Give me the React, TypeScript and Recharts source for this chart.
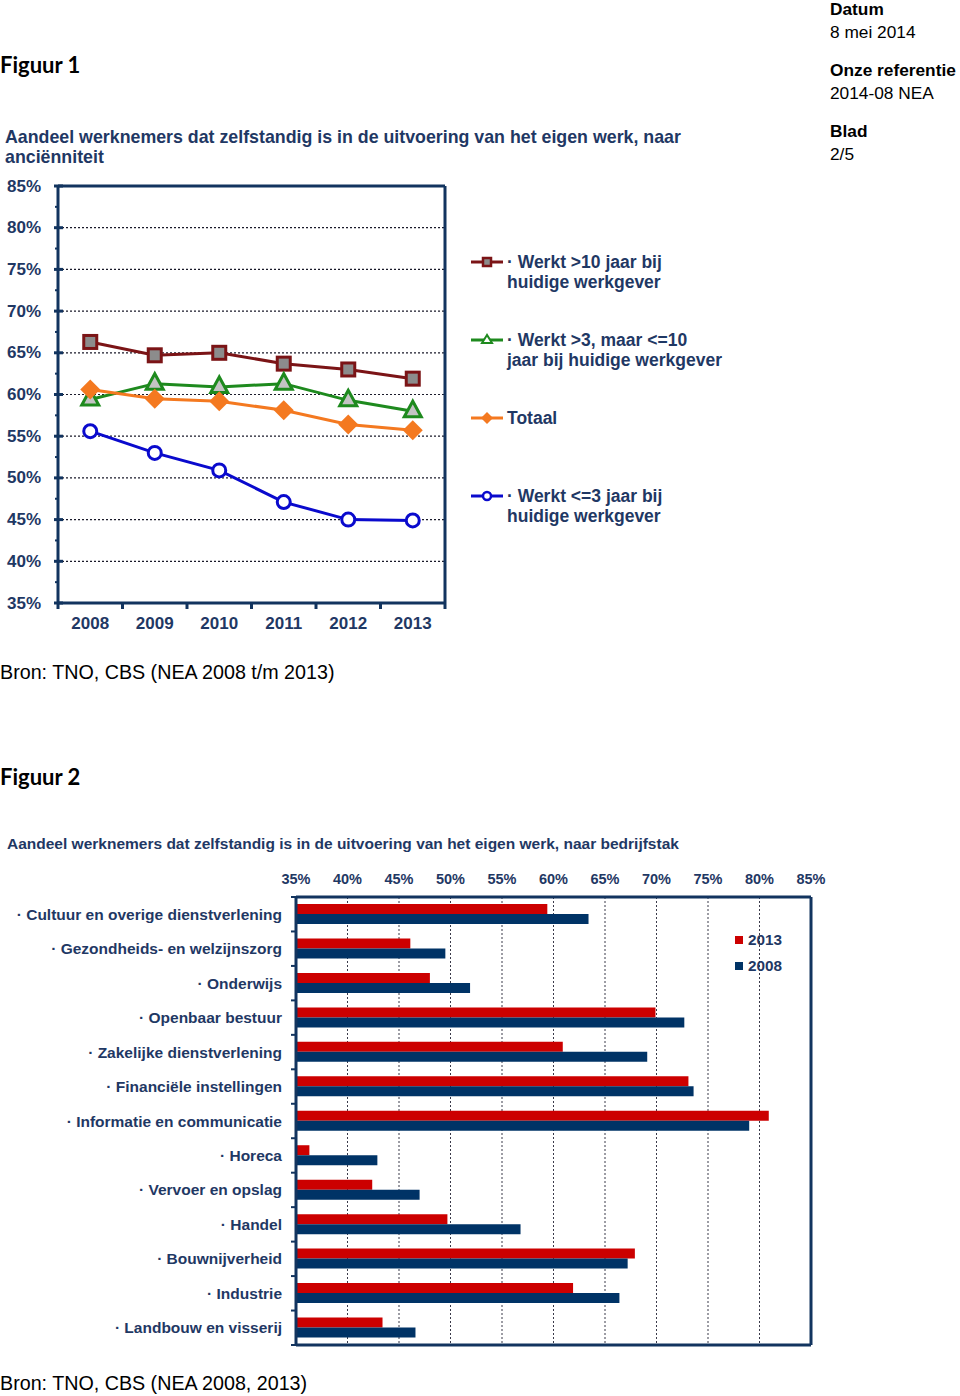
import React from "react";
import { LineChart, Line, BarChart, Bar, XAxis, YAxis, CartesianGrid } from "recharts";

// Figuur 1: anciënniteit
const years = ["2008", "2009", "2010", "2011", "2012", "2013"];
const langerDan10 = [66.3, 64.7, 65.0, 63.7, 63.0, 61.9];
const tussen3en10 = [59.4, 61.3, 60.9, 61.3, 59.3, 58.0];
const totaal = [60.6, 59.5, 59.2, 58.1, 56.4, 55.7];
const korterDan3 = [55.6, 53.0, 50.9, 47.1, 45.0, 44.9];

const pctTicks = [35, 37.5, 40, 42.5, 45, 47.5, 50, 52.5, 55, 57.5, 60, 62.5, 65, 67.5, 70, 72.5, 75, 77.5, 80, 82.5, 85];
const majorTicks = [35, 40, 45, 50, 55, 60, 65, 70, 75, 80, 85];
const gridValues = [40, 45, 50, 55, 60, 65, 70, 75, 80];

const legendLabels = [
  ["· Werkt >10 jaar bij", "huidige werkgever"],
  ["· Werkt >3, maar <=10", "jaar bij huidige werkgever"],
  ["Totaal"],
  ["· Werkt <=3 jaar bij", "huidige werkgever"],
];

// Figuur 2: bedrijfstak
const sectoren = [
  "Cultuur en overige dienstverlening",
  "Gezondheids- en welzijnszorg",
  "Onderwijs",
  "Openbaar bestuur",
  "Zakelijke dienstverlening",
  "Financiële instellingen",
  "Informatie en communicatie",
  "Horeca",
  "Vervoer en opslag",
  "Handel",
  "Bouwnijverheid",
  "Industrie",
  "Landbouw en visserij",
];
const waarden2013 = [59.4, 46.1, 48.0, 69.9, 60.9, 73.1, 80.9, 36.3, 42.4, 49.7, 67.9, 61.9, 43.4];
const waarden2008 = [63.4, 49.5, 51.9, 72.7, 69.1, 73.6, 79.0, 42.9, 47.0, 56.8, 67.2, 66.4, 46.6];

const NAVY = "#1F3864";
const FRAME = "#12345F";
const MAROON = "#7B1416";
const GREEN = "#1E8A1E";
const ORANGE = "#F47920";
const BLUE = "#0A0ACD";
const RED = "#CC0000";
const DARKBLUE = "#003366";
const FONT = "'Liberation Sans', Arial, sans-serif";

const lineData = years.map((year, i) => ({
  year,
  a: langerDan10[i],
  b: tussen3en10[i],
  t: totaal[i],
  c: korterDan3[i],
}));

const barData = sectoren.map((sector, i) => ({
  sector,
  v2013: waarden2013[i],
  v2008: waarden2008[i],
}));

const LINE_PLOT_W = 387;
const BAR_PLOT_H = 448;

const frame = { stroke: FRAME, strokeWidth: 3 };

const YearTick = (p: any) => {
  const band = LINE_PLOT_W / years.length;
  const last = p.index === years.length - 1;
  return (
    <g>
      <line x1={p.x - band / 2} x2={p.x - band / 2} y1={p.y} y2={p.y + 6} stroke={FRAME} strokeWidth={3} />
      {last && <line x1={p.x + band / 2} x2={p.x + band / 2} y1={p.y} y2={p.y + 6} stroke={FRAME} strokeWidth={3} />}
      <text x={p.x} y={p.y + 20} textAnchor="middle" dominantBaseline="central" fill={NAVY} fontSize={17} fontWeight="bold" fontFamily={FONT}>
        {p.payload.value}
      </text>
    </g>
  );
};

const PctTick = (p: any) => {
  const v = p.payload.value;
  const major = v % 5 === 0;
  return (
    <g>
      {major ? (
        <line x1={p.x - 4} x2={p.x + 5} y1={p.y} y2={p.y} stroke={FRAME} strokeWidth={3} />
      ) : (
        <line x1={p.x - 3} x2={p.x} y1={p.y} y2={p.y} stroke={FRAME} strokeWidth={2} />
      )}
      {major && (
        <text x={p.x - 51} y={p.y} textAnchor="start" dominantBaseline="central" fill={NAVY} fontSize={17} fontWeight="bold" fontFamily={FONT}>
          {`${v}%`}
        </text>
      )}
    </g>
  );
};

const TopTick = (p: any) => (
  <text x={p.x} y={p.y - 18} textAnchor="middle" dominantBaseline="central" fill={NAVY} fontSize={14.5} fontWeight="bold" fontFamily={FONT}>
    {`${p.payload.value}%`}
  </text>
);

const BottomTick = (p: any) => (
  <line x1={p.x} x2={p.x} y1={p.y} y2={p.y + 5} stroke={FRAME} strokeWidth={2} />
);

const SectorTick = (p: any) => {
  const band = BAR_PLOT_H / sectoren.length;
  const last = p.index === sectoren.length - 1;
  return (
    <g>
      <line x1={p.x - 5} x2={p.x} y1={p.y - band / 2} y2={p.y - band / 2} stroke={FRAME} strokeWidth={2} />
      {last && <line x1={p.x - 5} x2={p.x} y1={p.y + band / 2} y2={p.y + band / 2} stroke={FRAME} strokeWidth={2} />}
      <text x={p.x - 14} y={p.y} textAnchor="end" dominantBaseline="central" fill={NAVY} fontSize={15.5} fontWeight="bold" fontFamily={FONT}>
        {`· ${p.payload.value}`}
      </text>
    </g>
  );
};

const squareDot = (p: any) => (
  <rect key={`sq-${p.index}`} x={p.cx - 6.5} y={p.cy - 6.5} width={13} height={13} fill="#8C8C8C" stroke={MAROON} strokeWidth={3} />
);
const triangleDot = (p: any) => (
  <polygon
    key={`tr-${p.index}`}
    points={`${p.cx},${p.cy - 10} ${p.cx - 8.5},${p.cy + 5.5} ${p.cx + 8.5},${p.cy + 5.5}`}
    fill="#C4C4C4"
    stroke={GREEN}
    strokeWidth={3}
    strokeLinejoin="miter"
  />
);
const diamondDot = (p: any) => (
  <polygon key={`di-${p.index}`} points={`${p.cx},${p.cy - 10} ${p.cx + 10},${p.cy} ${p.cx},${p.cy + 10} ${p.cx - 10},${p.cy}`} fill={ORANGE} />
);
const circleDot = (p: any) => (
  <circle key={`ci-${p.index}`} cx={p.cx} cy={p.cy} r={6.5} fill="#fff" stroke={BLUE} strokeWidth={3} />
);

const legendIcons = [
  (c: number) => (
    <g>
      <line x1={0} x2={32} y1={c} y2={c} stroke={MAROON} strokeWidth={3} />
      <rect x={12} y={c - 4} width={8} height={8} fill="#8C8C8C" stroke={MAROON} strokeWidth={2.5} />
    </g>
  ),
  (c: number) => (
    <g>
      <line x1={0} x2={32} y1={c} y2={c} stroke={GREEN} strokeWidth={3} />
      <polygon points={`16,${c - 5} 11,${c + 3} 21,${c + 3}`} fill="#fff" stroke={GREEN} strokeWidth={2} />
    </g>
  ),
  (c: number) => (
    <g>
      <line x1={0} x2={32} y1={c} y2={c} stroke={ORANGE} strokeWidth={3} />
      <polygon points={`16,${c - 6} 22,${c} 16,${c + 6} 10,${c}`} fill={ORANGE} />
    </g>
  ),
  (c: number) => (
    <g>
      <line x1={0} x2={32} y1={c} y2={c} stroke={BLUE} strokeWidth={3} />
      <circle cx={16} cy={c} r={4} fill="#fff" stroke={BLUE} strokeWidth={2.5} />
    </g>
  ),
];

const abs = (top: number, left: number, extra: React.CSSProperties = {}): React.CSSProperties => ({
  position: "absolute",
  top,
  left,
  whiteSpace: "nowrap",
  ...extra,
});

const App: React.FC = () => {
  const headBold: React.CSSProperties = { fontWeight: "bold", fontSize: 17.3, lineHeight: "20px", color: "#000" };
  const headReg: React.CSSProperties = { fontSize: 17.3, lineHeight: "20px", color: "#000" };
  const figuur: React.CSSProperties = { fontFamily: "Lato, 'Open Sans', sans-serif", fontWeight: "bold", fontSize: 22, lineHeight: "26px", color: "#000" };
  const bron: React.CSSProperties = { fontSize: 19.7, lineHeight: "24px", color: "#000" };

  return (
    <div style={{ position: "absolute", left: 0, top: 0, width: 960, height: 1396, background: "#fff", fontFamily: FONT, overflow: "hidden" }}>
      <div style={abs(-1, 830, headBold)}>Datum</div>
      <div style={abs(22, 830, headReg)}>8 mei 2014</div>
      <div style={abs(60, 830, headBold)}>Onze referentie</div>
      <div style={abs(83, 830, headReg)}>2014-08 NEA</div>
      <div style={abs(121, 830, headBold)}>Blad</div>
      <div style={abs(144, 830, headReg)}>2/5</div>

      <div style={abs(52, 0, figuur)}>Figuur 1</div>
      <div style={abs(127, 5, { fontWeight: "bold", fontSize: 17.8, lineHeight: "20px", color: NAVY })}>
        Aandeel werknemers dat zelfstandig is in de uitvoering van het eigen werk, naar
        <br />
        anciënniteit
      </div>

      <div style={{ position: "absolute", left: 0, top: 170 }}>
        <LineChart width={460} height={470} data={lineData} margin={{ top: 15, right: 14, bottom: 0, left: 0 }}>
          <CartesianGrid vertical={false} horizontalValues={gridValues} stroke="#1a1a2a" strokeDasharray="2 2" strokeWidth={1.2} />
          <XAxis dataKey="year" scale="band" height={37} tickSize={0} tickMargin={0} tickLine={false} axisLine={frame} tick={<YearTick />} interval={0} />
          <XAxis xAxisId="top" dataKey="year" scale="band" orientation="top" height={1} tick={false} tickLine={false} axisLine={frame} />
          <YAxis type="number" domain={[35, 85]} ticks={pctTicks} width={58} tickSize={0} tickMargin={0} tickLine={false} axisLine={frame} tick={<PctTick />} interval={0} />
          <YAxis yAxisId="right" orientation="right" type="number" domain={[35, 85]} width={1} tick={false} tickLine={false} axisLine={frame} />
          <Line dataKey="a" stroke={MAROON} strokeWidth={3} dot={squareDot} isAnimationActive={false} />
          <Line dataKey="b" stroke={GREEN} strokeWidth={3} dot={triangleDot} isAnimationActive={false} />
          <Line dataKey="t" stroke={ORANGE} strokeWidth={3} dot={diamondDot} isAnimationActive={false} />
          <Line dataKey="c" stroke={BLUE} strokeWidth={3} dot={circleDot} isAnimationActive={false} />
        </LineChart>
      </div>

      {legendLabels.map((lines, i) => {
        const top = 252 + i * 78;
        return (
          <div key={i} style={abs(top, 471)}>
            <svg width={34} height={20} style={{ position: "absolute", left: 0, top: 0 }}>
              {legendIcons[i](10)}
            </svg>
            <div style={{ position: "absolute", left: 36, top: 0, fontWeight: "bold", fontSize: 17.5, lineHeight: "20px", color: NAVY, whiteSpace: "nowrap" }}>
              {lines.map((l, j) => (
                <div key={j}>{l}</div>
              ))}
            </div>
          </div>
        );
      })}

      <div style={abs(660, 0, bron)}>Bron: TNO, CBS (NEA 2008 t/m 2013)</div>

      <div style={abs(764, 0, figuur)}>Figuur 2</div>
      <div style={abs(834, 7, { fontWeight: "bold", fontSize: 15.5, lineHeight: "20px", color: NAVY })}>
        Aandeel werknemers dat zelfstandig is in de uitvoering van het eigen werk, naar bedrijfstak
      </div>

      <div style={{ position: "absolute", left: 0, top: 850 }}>
        <BarChart layout="vertical" width={830} height={510} data={barData} margin={{ top: 17, right: 18, bottom: 7, left: 0 }} barGap={0} barSize={10}>
          <CartesianGrid xAxisId="top" yAxisId="left" horizontal={false} verticalValues={gridValues} stroke="#3a3a4a" strokeDasharray="2 2" strokeWidth={1} />
          <XAxis xAxisId="top" type="number" orientation="top" domain={[35, 85]} ticks={majorTicks} height={30} tickSize={0} tickMargin={0} tickLine={false} axisLine={frame} tick={<TopTick />} interval={0} />
          <XAxis xAxisId="bottom" type="number" orientation="bottom" domain={[35, 85]} ticks={pctTicks} height={8} tickSize={0} tickMargin={0} tickLine={false} axisLine={frame} tick={<BottomTick />} interval={0} />
          <YAxis yAxisId="left" type="category" dataKey="sector" width={296} tickSize={0} tickMargin={0} tickLine={false} axisLine={frame} tick={<SectorTick />} interval={0} />
          <YAxis yAxisId="right" orientation="right" type="category" dataKey="sector" width={1} tick={false} tickLine={false} axisLine={frame} />
          <Bar xAxisId="top" yAxisId="left" dataKey="v2013" fill={RED} isAnimationActive={false} />
          <Bar xAxisId="top" yAxisId="left" dataKey="v2008" fill={DARKBLUE} isAnimationActive={false} />
        </BarChart>
      </div>

      {[
        { label: "2013", color: RED },
        { label: "2008", color: DARKBLUE },
      ].map((e, i) => (
        <div key={e.label} style={abs(930 + i * 26, 735, { fontWeight: "bold", fontSize: 15.3, lineHeight: "20px", color: NAVY })}>
          <span style={{ display: "inline-block", width: 8, height: 8, background: e.color, marginRight: 5, verticalAlign: "1px" }} />
          {e.label}
        </div>
      ))}

      <div style={abs(1371, 0, bron)}>Bron: TNO, CBS (NEA 2008, 2013)</div>
    </div>
  );
};

export default App;
